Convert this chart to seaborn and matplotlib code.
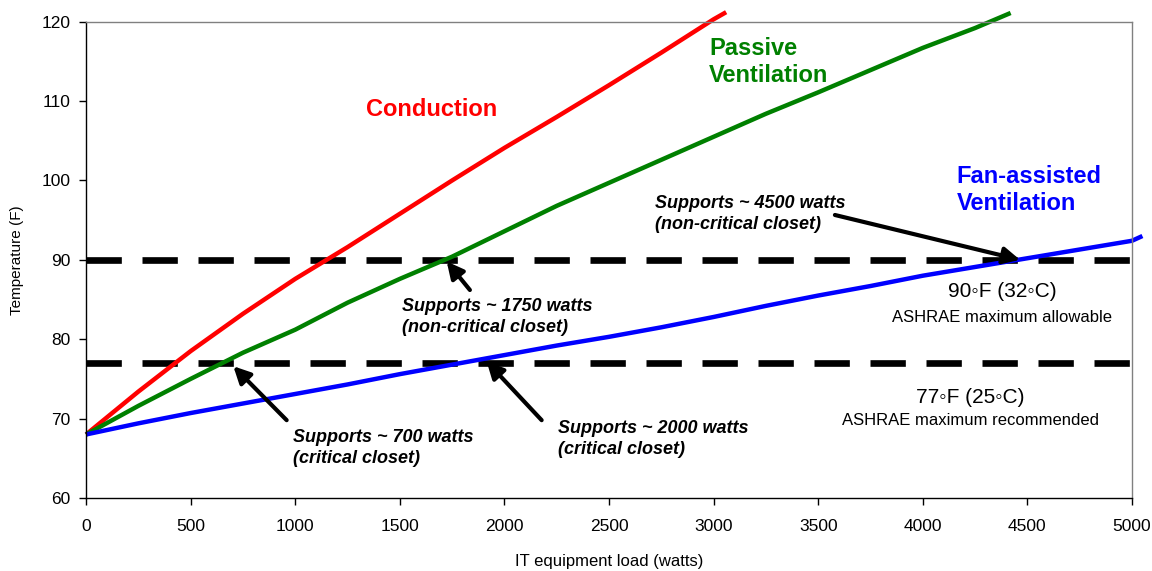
import matplotlib.pyplot as plt
import seaborn as sns
import pandas as pd

# Values: IT load (watts) vs closet temperature (F)
conduction_load = [0, 250, 500, 750, 1000, 1250, 1500, 1750, 2000, 2250, 2500, 2750, 3000, 3060]
conduction_temp = [68.0, 73.4, 78.5, 83.2, 87.6, 91.6, 95.8, 100.0, 104.1, 108.0, 112.0, 116.1, 120.3, 121.2]

passive_load = [0, 250, 500, 750, 1000, 1250, 1500, 1750, 2000, 2250, 2500, 2750, 3000, 3250,
                3500, 3750, 4000, 4250, 4420]
passive_temp = [68.0, 71.6, 75.0, 78.3, 81.2, 84.6, 87.6, 90.4, 93.6, 96.8, 99.7, 102.6, 105.5, 108.4,
                111.1, 113.9, 116.7, 119.2, 121.1]

fan_load = [0, 250, 500, 750, 1000, 1250, 1500, 1750, 2000, 2250, 2500, 2750, 3000, 3250, 3500,
            3750, 4000, 4250, 4500, 4750, 5000, 5050]
fan_temp = [68.0, 69.4, 70.7, 71.9, 73.1, 74.3, 75.6, 76.8, 78.0, 79.2, 80.3, 81.5, 82.8, 84.2, 85.5,
            86.7, 88.0, 89.1, 90.2, 91.3, 92.4, 93.0]

series_names = ["Conduction", "Passive\nVentilation", "Fan-assisted\nVentilation"]
series_colors = ["#ff0000", "#008000", "#0000ff"]

# ASHRAE limits
limit_temps = [90, 77]
limit_titles = ["90\u25e6F (32\u25e6C)", "77\u25e6F (25\u25e6C)"]
limit_notes = ["ASHRAE maximum allowable", "ASHRAE maximum recommended"]

support_labels = ["Supports ~ 700 watts\n(critical closet)",
                  "Supports ~ 1750 watts\n(non-critical closet)",
                  "Supports ~ 2000 watts\n(critical closet)",
                  "Supports ~ 4500 watts\n(non-critical closet)"]

df = pd.concat([
    pd.DataFrame({"load": conduction_load, "temp": conduction_temp, "series": series_names[0]}),
    pd.DataFrame({"load": passive_load, "temp": passive_temp, "series": series_names[1]}),
    pd.DataFrame({"load": fan_load, "temp": fan_temp, "series": series_names[2]}),
])

sns.set_style("ticks")
plt.rcParams["font.family"] = ["Liberation Sans", "DejaVu Sans"]
plt.rcParams["text.color"] = "black"
plt.rcParams["axes.labelcolor"] = "black"
plt.rcParams["xtick.color"] = "black"
plt.rcParams["ytick.color"] = "black"

fig = plt.figure(figsize=(11.52, 5.71), dpi=100)
ax = fig.add_axes([0.0747, 0.1279, 0.9079, 0.8341])

sns.lineplot(data=df, x="load", y="temp", hue="series",
             palette=dict(zip(series_names, series_colors)),
             linewidth=3.2, legend=False, estimator=None, ax=ax)
for line in ax.lines:
    line.set_clip_on(False)
    line.set_solid_capstyle("butt")

for t in limit_temps:
    ax.axhline(t, color="black", lw=4.8, dashes=(5.3, 3.1), zorder=1.5)

ax.set_xlim(0, 5000)
ax.set_ylim(60, 120)
ax.set_xticks(range(0, 5001, 500))
ax.set_yticks(range(60, 121, 10))
ax.tick_params(axis="both", direction="out", length=5, width=1, colors="black", labelsize=12.5)
ax.tick_params(axis="x", pad=10)
ax.tick_params(axis="y", pad=6)

for side in ["left", "bottom"]:
    ax.spines[side].set_color("black")
    ax.spines[side].set_linewidth(1)
for side in ["top", "right"]:
    ax.spines[side].set_visible(True)
    ax.spines[side].set_color("#808080")
    ax.spines[side].set_linewidth(1)

ax.set_xlabel("IT equipment load (watts)", fontsize=12)
ax.set_ylabel("Temperature (F)", fontsize=11)
ax.xaxis.set_label_coords(0.5, -0.118)
ax.yaxis.set_label_coords(-0.059, 0.5)

# series names
ax.text(1654, 108.9, "Conduction", color=series_colors[0], fontsize=17, fontweight="bold",
        ha="center", va="center")
ax.text(2978, 114.9, "Passive\nVentilation", color=series_colors[1], fontsize=17,
        fontweight="bold", ha="left", va="center", linespacing=1.25)
ax.text(4163, 98.8, "Fan-assisted\nVentilation", color=series_colors[2], fontsize=17,
        fontweight="bold", ha="left", va="center", linespacing=1.25)

# ASHRAE limit labels
ax.text(4378, 86.0, limit_titles[0], fontsize=15, ha="center", va="center",
        family=["Liberation Sans", "DejaVu Sans"])
ax.text(4378, 82.7, limit_notes[0], fontsize=12, ha="center", va="center")
ax.text(4226, 72.6, limit_titles[1], fontsize=15, ha="center", va="center",
        family=["Liberation Sans", "DejaVu Sans"])
ax.text(4226, 69.7, limit_notes[1], fontsize=12, ha="center", va="center")

# "Supports ~" callouts: text position, arrow tail, arrow tip
text_pos = [(990, 66.3), (1509, 82.75), (2256, 67.45), (2720, 95.8)]
arrow_tail = [(959, 69.8), (1835, 86.2), (2178, 69.8), (3580, 95.65)]
arrow_tip = [(704, 76.6), (1724, 89.8), (1915, 77.2), (4465, 90.0)]

for label, (tx, ty), tail, tip in zip(support_labels, text_pos, arrow_tail, arrow_tip):
    ax.text(tx, ty, label, fontsize=13, fontweight="bold", fontstyle="italic",
            ha="left", va="center", linespacing=1.3)
    ax.annotate("", xy=tip, xytext=tail,
                arrowprops=dict(arrowstyle="-|>,head_length=0.5,head_width=0.25",
                                color="black", lw=3, mutation_scale=20,
                                shrinkA=0, shrinkB=0))

fig.savefig("out.png", dpi=100)
plt.close(fig)
